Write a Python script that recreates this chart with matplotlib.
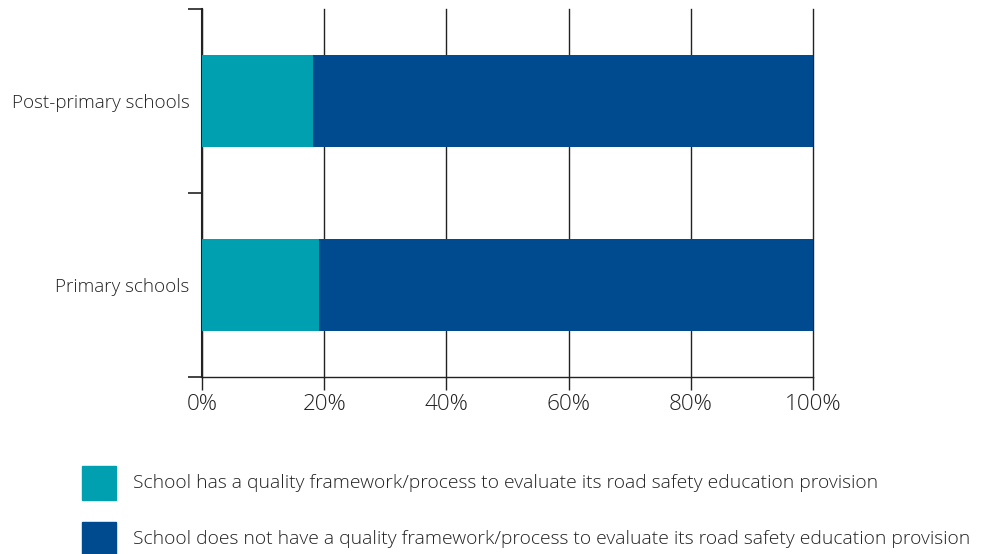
import numpy as np
import matplotlib.pyplot as plt
from matplotlib.patches import Rectangle

# data
categories = ['Primary schools', 'Post-primary schools']
has_framework = [19.1, 18.2]
no_framework = [80.9, 81.8]
labels = [
    'School has a quality framework/process to evaluate its road safety education provision',
    'School does not have a quality framework/process to evaluate its road safety education provision',
]
colors = ['#00A0B0', '#004A8F']

plt.rcParams['font.family'] = ['Open Sans', 'DejaVu Sans']
plt.rcParams['font.weight'] = 'light'

fig = plt.figure(figsize=(9.82, 5.54), dpi=100)
ax = fig.add_axes([202/982, 1 - 377/554, 611/982, 368/554])

y = np.arange(len(categories))
ax.barh(y, has_framework, height=0.505, color=colors[0], zorder=3)
ax.barh(y, no_framework, left=has_framework, height=0.505, color=colors[1], zorder=3)

ax.set_xlim(0, 100)
ax.set_ylim(-0.5, 1.5)
ax.set_xticks(np.arange(0, 101, 20))
ax.set_xticklabels([f'{v}%' for v in range(0, 101, 20)], fontsize=16.2, color='#222222')
ax.set_yticks(y)
ax.set_yticklabels(categories, fontsize=13.6, color='#222222')
ax.set_yticks([-0.5, 0.5, 1.5], minor=True)
ax.tick_params(axis='y', which='major', length=0, pad=9)
ax.tick_params(axis='y', which='minor', length=10, width=1.2, color='#222222')
ax.tick_params(axis='x', length=9, width=1.0, color='#222222', pad=3)

ax.grid(axis='x', color='#222222', linewidth=1.0, zorder=0)
for gl in ax.get_xgridlines():
    gl.set_clip_on(False)
for s in ['top', 'right']:
    ax.spines[s].set_visible(False)
ax.spines['left'].set_linewidth(1.5)
ax.spines['left'].set_color('#222222')
ax.spines['bottom'].set_linewidth(1.0)
ax.spines['bottom'].set_color('#222222')

# legend
for i, (lab, c) in enumerate(zip(labels, colors)):
    top = 466 + i * 56
    fig.add_artist(Rectangle((82/982, 1 - (top + 34)/554), 34/982, 34/554,
                             transform=fig.transFigure, color=c))
    fig.text(133/982, 1 - (top + 17)/554, lab, fontsize=13.9, color='#222222', va='center')

plt.savefig('out.png', dpi=100)
